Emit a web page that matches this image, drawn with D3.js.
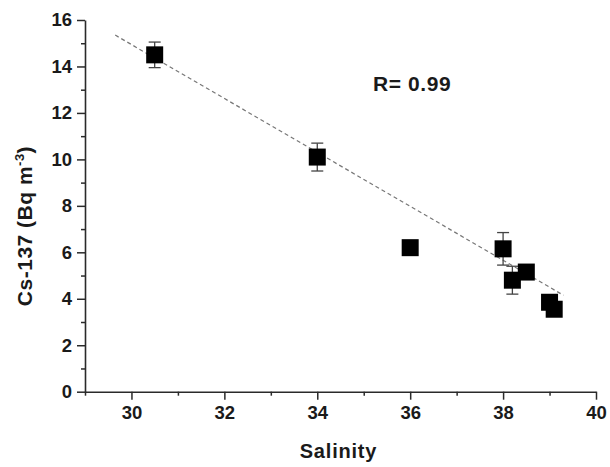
<!DOCTYPE html>
<html>
<head>
<meta charset="utf-8">
<script src="https://cdn.jsdelivr.net/npm/d3@7"></script>
<style>
  html, body { margin: 0; padding: 0; background: #fff; }
  svg { display: block; }
  text { font-family: "Liberation Sans", Arial, sans-serif; font-weight: bold; fill: #1a1a1a; }
</style>
</head>
<body>
<svg id="chart" width="610" height="467"></svg>
<script>
// ---- data ----
const salinity = [30.5, 34.0, 36.0, 38.0, 38.2, 38.5, 39.0, 39.1];
const cs137    = [14.5, 10.1, 6.2, 6.15, 4.8, 5.15, 3.85, 3.55];
const cs137Err = [0.55, 0.6, 0.3, 0.7, 0.6, 0.3, 0.3, 0.3];
const fitX = [29.65, 39.3];
const fitY = [15.35, 4.15];
const xMajorTicks = [30, 32, 34, 36, 38, 40];
const xMinorTicks = [29, 31, 33, 35, 37, 39];
const yMajorTicks = [0, 2, 4, 6, 8, 10, 12, 14, 16];
const yMinorTicks = [1, 3, 5, 7, 9, 11, 13, 15];
const xTitle = "Salinity";
const yTitle = "Cs-137 (Bq m";
const yTitleSup = "-3";
const annotation = "R= 0.99";

// ---- layout ----
const svg = d3.select("#chart");
const x = d3.scaleLinear().domain([29, 40]).range([85, 596]);
const y = d3.scaleLinear().domain([0, 16]).range([391.7, 20]);
const axisColor = "#2a2a2a";

// fit line
svg.append("line")
  .attr("x1", x(fitX[0])).attr("y1", y(fitY[0]))
  .attr("x2", x(fitX[1])).attr("y2", y(fitY[1]))
  .attr("stroke", "#777").attr("stroke-width", 1.2)
  .attr("stroke-dasharray", "4,3");

// axes
function styleAxis(g) {
  g.select(".domain").attr("stroke", axisColor).attr("stroke-width", 1.6);
  g.selectAll(".tick line").attr("stroke", axisColor).attr("stroke-width", 1.5);
  g.selectAll("text").style("font-size", "18.5px").attr("fill", "#1a1a1a");
}

const xAxis = svg.append("g").attr("transform", `translate(0,${y(0)})`)
  .call(d3.axisBottom(x).tickValues(xMajorTicks).tickSize(8).tickSizeOuter(0).tickPadding(6).tickFormat(d3.format("d")));
styleAxis(xAxis);
const xMinor = svg.append("g").attr("transform", `translate(0,${y(0)})`)
  .call(d3.axisBottom(x).tickValues(xMinorTicks).tickSize(4).tickSizeOuter(0).tickFormat(""));
xMinor.select(".domain").remove();
xMinor.selectAll(".tick line").attr("stroke", axisColor).attr("stroke-width", 1.5);

const yAxis = svg.append("g").attr("transform", `translate(${x(29)},0)`)
  .call(d3.axisLeft(y).tickValues(yMajorTicks).tickSize(8).tickSizeOuter(0).tickPadding(5).tickFormat(d3.format("d")));
styleAxis(yAxis);
const yMinor = svg.append("g").attr("transform", `translate(${x(29)},0)`)
  .call(d3.axisLeft(y).tickValues(yMinorTicks).tickSize(4).tickSizeOuter(0).tickFormat(""));
yMinor.select(".domain").remove();
yMinor.selectAll(".tick line").attr("stroke", axisColor).attr("stroke-width", 1.5);

// error bars
const pts = salinity.map((s, i) => ({ s, c: cs137[i], e: cs137Err[i] }));
const eb = svg.append("g").attr("stroke", "#444").attr("stroke-width", 1.3);
pts.forEach(p => {
  const cx = x(p.s);
  eb.append("line").attr("x1", cx).attr("x2", cx).attr("y1", y(p.c + p.e)).attr("y2", y(p.c - p.e));
  [p.c + p.e, p.c - p.e].forEach(v => {
    eb.append("line").attr("x1", cx - 6).attr("x2", cx + 6).attr("y1", y(v)).attr("y2", y(v));
  });
});

// markers
const ms = 17;
svg.append("g").selectAll("rect").data(pts).join("rect")
  .attr("x", d => x(d.s) - ms / 2)
  .attr("y", d => y(d.c) - ms / 2)
  .attr("width", ms).attr("height", ms)
  .attr("fill", "#000");

// annotation
svg.append("text").attr("x", 373).attr("y", 91).style("font-size", "21px").style("letter-spacing", "0.6px").text(annotation);

// axis titles
svg.append("text").attr("x", (x(29) + x(40)) / 2 - 2).attr("y", 458)
  .attr("text-anchor", "middle").style("font-size", "20px").style("letter-spacing", "0.8px").text(xTitle);

const yt = svg.append("text")
  .attr("transform", "translate(32,226) rotate(-90)")
  .attr("text-anchor", "middle").style("font-size", "21px").style("letter-spacing", "0.5px");
yt.append("tspan").text(yTitle);
yt.append("tspan").attr("dy", -8).style("font-size", "13px").text(yTitleSup);
yt.append("tspan").attr("dy", 8).text(")");
</script>
</body>
</html>
